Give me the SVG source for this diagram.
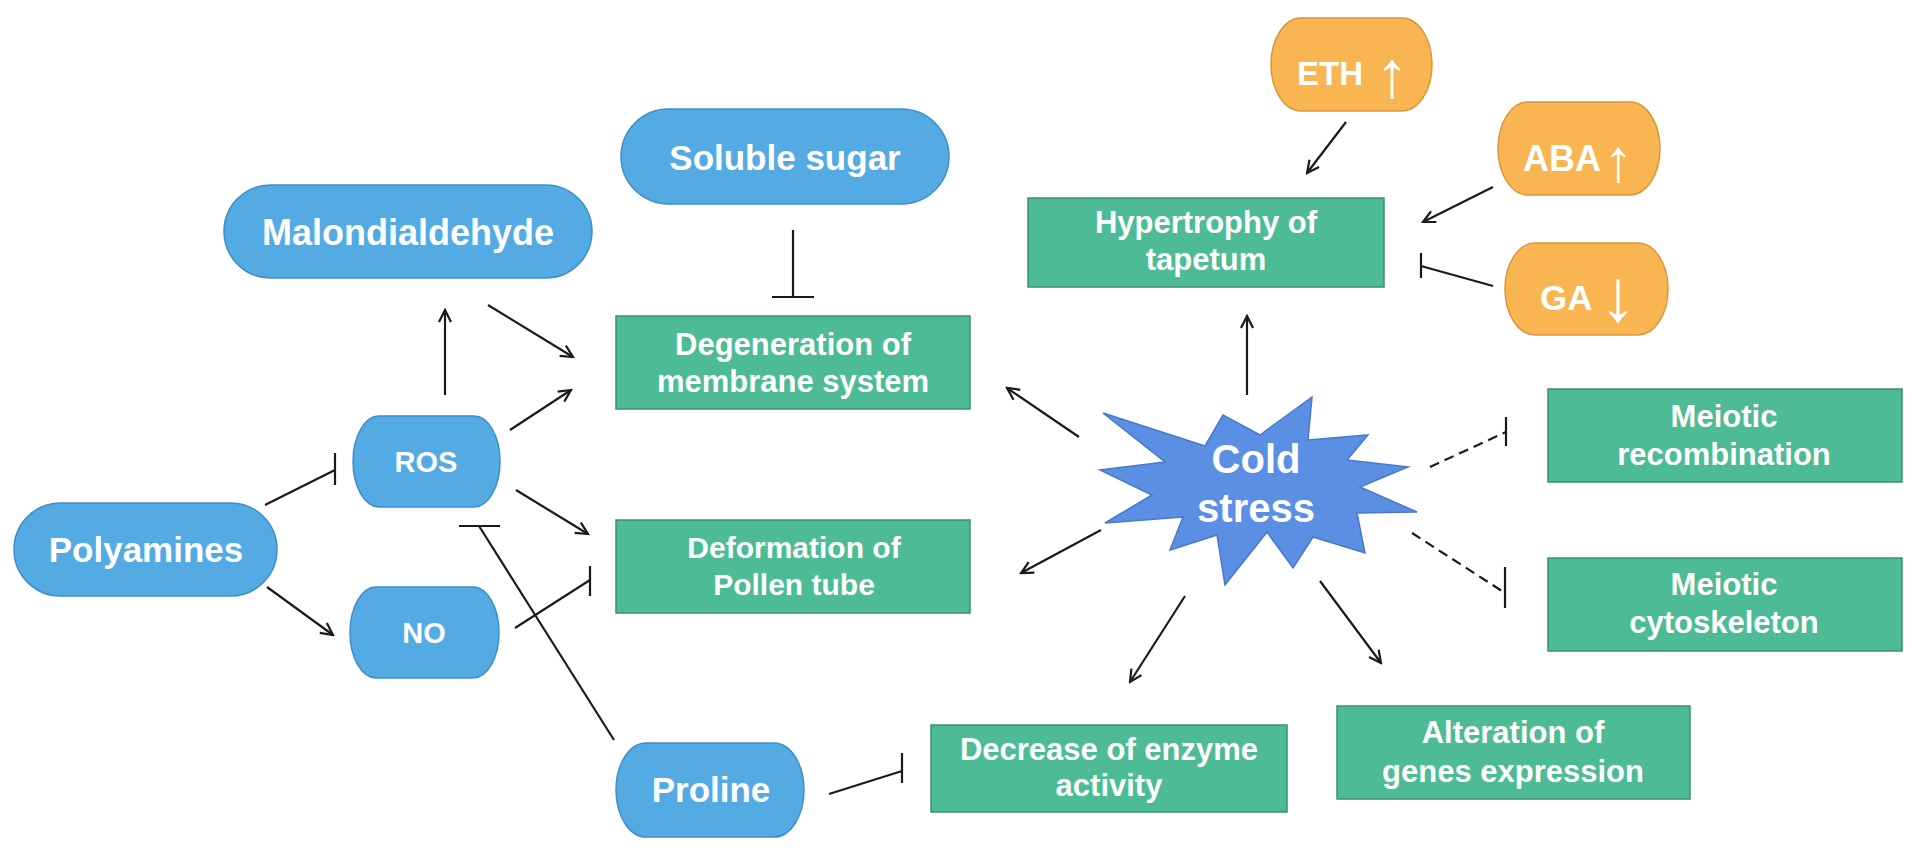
<svg xmlns="http://www.w3.org/2000/svg" width="1920" height="848" viewBox="0 0 1920 848">
<style>
.bp{fill:#54ABE4;stroke:#3E8FC8;stroke-width:1.5}
.gb{fill:#4DBB95;stroke:#3C8F72;stroke-width:1.5}
.ob{fill:#F8B551;stroke:#D9973A;stroke-width:1.5}
.t{fill:#ffffff;font-family:"Liberation Sans",Arial,sans-serif;font-weight:bold;text-anchor:middle}
.ts{fill:#ffffff;font-family:"Liberation Sans",Arial,sans-serif;font-weight:bold}
.ar{fill:#ffffff;font-family:"Liberation Sans",Arial,sans-serif;font-weight:normal;text-anchor:middle}
.c{stroke:#1a1a1a;stroke-width:2.2;fill:none}
.a{marker-end:url(#ah)}
.d{stroke-dasharray:10 6}
</style>
<defs>
<marker id="ah" viewBox="0 0 16 16" refX="14" refY="8" markerWidth="16" markerHeight="16" markerUnits="userSpaceOnUse" orient="auto">
<path d="M2,2 L14,8 L2,14" fill="none" stroke="#1a1a1a" stroke-width="2.2"/>
</marker>
</defs>
<rect width="1920" height="848" fill="#ffffff"/>

<g id="connectors">
<line class="c a" x1="445" y1="395" x2="445" y2="310"/>
<line class="c a" x1="488" y1="305" x2="573" y2="357"/>
<line class="c a" x1="510" y1="430" x2="571" y2="390"/>
<line class="c a" x1="516" y1="490" x2="588" y2="534"/>
<line class="c a" x1="267" y1="587" x2="333" y2="635"/>
<line class="c" x1="265" y1="505" x2="335" y2="470"/>
<line class="c" x1="335" y1="453" x2="335" y2="485"/>
<line class="c" x1="515" y1="628" x2="590" y2="580"/>
<line class="c" x1="590" y1="566" x2="590" y2="596"/>
<line class="c" x1="614" y1="740" x2="479" y2="526"/>
<line class="c" x1="459" y1="526" x2="500" y2="526"/>
<line class="c" x1="793" y1="230" x2="793" y2="297"/>
<line class="c" x1="772" y1="297" x2="814" y2="297"/>
<line class="c" x1="829" y1="794" x2="902" y2="771"/>
<line class="c" x1="902" y1="753" x2="902" y2="783"/>
<line class="c a" x1="1079" y1="437" x2="1007" y2="388"/>
<line class="c a" x1="1101" y1="530" x2="1021" y2="573"/>
<line class="c a" x1="1185" y1="596" x2="1130" y2="682"/>
<line class="c a" x1="1320" y1="581" x2="1381" y2="663"/>
<line class="c a" x1="1247" y1="395" x2="1247" y2="316"/>
<line class="c a" x1="1346" y1="122" x2="1307" y2="173"/>
<line class="c a" x1="1493" y1="187" x2="1423" y2="222"/>
<line class="c" x1="1493" y1="286" x2="1421" y2="266"/>
<line class="c" x1="1421" y1="253" x2="1421" y2="278"/>
<line class="c d" x1="1430" y1="467" x2="1506" y2="432"/>
<line class="c" x1="1506" y1="417" x2="1506" y2="446"/>
<line class="c d" x1="1412" y1="533" x2="1505" y2="593"/>
<line class="c" x1="1505" y1="567" x2="1505" y2="608"/>
</g>

<g id="malondialdehyde">
<rect class="bp" x="224" y="185" width="368" height="93" rx="46.5"/>
<text class="t" x="408" y="245" font-size="36">Malondialdehyde</text>
</g>
<g id="soluble-sugar">
<rect class="bp" x="621" y="109" width="328" height="95" rx="47.5"/>
<text class="t" x="785" y="170" font-size="35">Soluble sugar</text>
</g>
<g id="polyamines">
<rect class="bp" x="14" y="503" width="263" height="93" rx="46.5"/>
<text class="t" x="146" y="562" font-size="35">Polyamines</text>
</g>
<g id="ros">
<rect class="bp" x="353" y="416" width="147" height="91" rx="26" ry="45.5"/>
<text class="t" x="426" y="472" font-size="29">ROS</text>
</g>
<g id="no">
<rect class="bp" x="350" y="587" width="149" height="91" rx="26" ry="45.5"/>
<text class="t" x="424" y="643" font-size="29">NO</text>
</g>
<g id="proline">
<rect class="bp" x="616" y="743" width="188" height="94" rx="30" ry="47"/>
<text class="t" x="711" y="802" font-size="35">Proline</text>
</g>

<g id="degeneration">
<rect class="gb" x="616" y="316" width="354" height="93"/>
<text class="t" x="793" y="355" font-size="31">Degeneration of</text>
<text class="t" x="793" y="392" font-size="31">membrane system</text>
</g>
<g id="deformation">
<rect class="gb" x="616" y="520" width="354" height="93"/>
<text class="t" x="794" y="558" font-size="30">Deformation of</text>
<text class="t" x="794" y="595" font-size="30">Pollen tube</text>
</g>
<g id="decrease">
<rect class="gb" x="931" y="725" width="356" height="87"/>
<text class="t" x="1109" y="760" font-size="31">Decrease of enzyme</text>
<text class="t" x="1109" y="796" font-size="31">activity</text>
</g>
<g id="hypertrophy">
<rect class="gb" x="1028" y="198" width="356" height="89"/>
<text class="t" x="1206" y="233" font-size="31">Hypertrophy of</text>
<text class="t" x="1206" y="270" font-size="31">tapetum</text>
</g>
<g id="meiotic-recombination">
<rect class="gb" x="1548" y="389" width="354" height="93"/>
<text class="t" x="1724" y="427" font-size="31">Meiotic</text>
<text class="t" x="1724" y="465" font-size="31">recombination</text>
</g>
<g id="meiotic-cytoskeleton">
<rect class="gb" x="1548" y="558" width="354" height="93"/>
<text class="t" x="1724" y="595" font-size="31">Meiotic</text>
<text class="t" x="1724" y="633" font-size="31">cytoskeleton</text>
</g>
<g id="alteration">
<rect class="gb" x="1337" y="706" width="353" height="93"/>
<text class="t" x="1513" y="743" font-size="31">Alteration of</text>
<text class="t" x="1513" y="782" font-size="31">genes expression</text>
</g>

<g id="eth">
<rect class="ob" x="1271" y="18" width="161" height="93" rx="30" ry="46.5"/>
<text class="ts" x="1297" y="85" font-size="33">ETH<tspan class="ar" x="1392" y="97" font-size="66">↑</tspan></text>
</g>
<g id="aba">
<rect class="ob" x="1498" y="102" width="162" height="93" rx="30" ry="46.5"/>
<text class="ts" x="1523" y="171" font-size="36">ABA<tspan class="ar" x="1618" y="181" font-size="60">↑</tspan></text>
</g>
<g id="ga">
<rect class="ob" x="1505" y="243" width="163" height="92" rx="30" ry="46"/>
<text class="ts" x="1540" y="310" font-size="35">GA<tspan class="ar" x="1618" y="321" font-size="74">↓</tspan></text>
</g>

<g id="cold-stress">
<polygon points="1103,413 1205,446 1223,415 1260,435 1312,397 1308,440 1368,435 1347,460 1408,467 1360,487 1417,512 1357,513 1365,553 1313,537 1293,568 1267,532 1225,585 1217,535 1170,550 1183,517 1105,523 1152,495 1100,470 1165,462" fill="#5A8FE3" stroke="#4A78C8" stroke-width="1.5" stroke-linejoin="miter"/>
<text class="t" x="1256" y="473" font-size="40">Cold</text>
<text class="t" x="1256" y="522" font-size="40">stress</text>
</g>
</svg>
